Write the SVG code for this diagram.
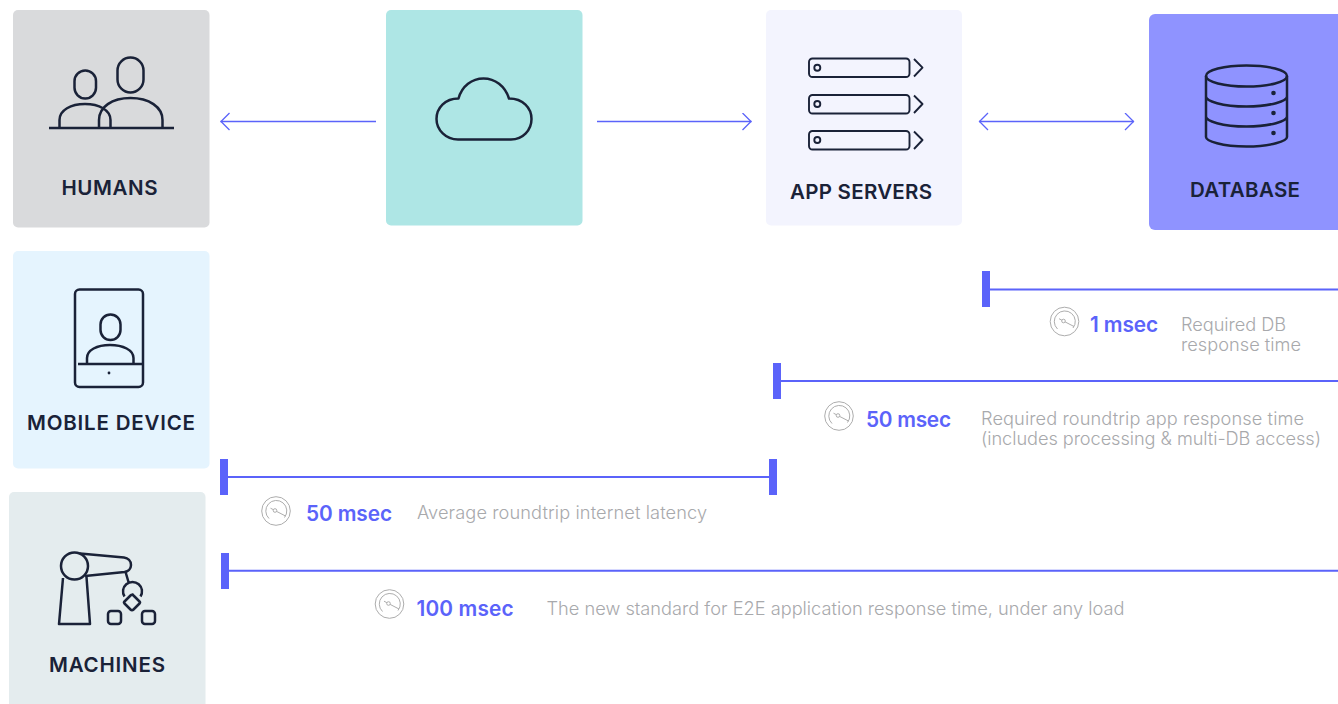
<svg xmlns="http://www.w3.org/2000/svg" xmlns:xlink="http://www.w3.org/1999/xlink" width="1338" height="704" viewBox="0 0 1338 704">
<style>
text{font-family:Inter,"Noto Sans",sans-serif}
.lbl{font-size:20.500px;font-weight:600;fill:#1a2238;text-anchor:middle}
.ic{fill:none;stroke:#1a2238;stroke-width:2.500;stroke-linejoin:round}
.ics{fill:none;stroke:#1a2238;stroke-width:1.900;stroke-linejoin:round}
.dot{fill:#1a2238}
.conn{fill:none;stroke:#5b63fa;stroke-width:1.300}
.span{fill:none;stroke:#5b63fa;stroke-width:2}
.bar{fill:#5b63fa}
.val{font-size:20.800px;font-weight:600;fill:#5b63fa}
.desc{font-size:18.200px;font-weight:300;fill:#a8a9ac}
.g{fill:none;stroke:#adadad;stroke-width:1}
</style>
<defs>
<marker id="ah" viewBox="0 0 12 20" refX="11" refY="9" markerWidth="12" markerHeight="20" markerUnits="userSpaceOnUse" orient="auto-start-reverse"><path d="M2 0.500L10.500 9L2 17.500" fill="none" stroke="#5b63fa" stroke-width="1.300"/></marker>
<g id="gauge">
<circle class="g" r="14.300"/>
<path class="g" d="M-7 7.500A10.500 10.500 0 1 1 8.500 6.500"/>
<circle class="g" cx="-1" cy="-0.500" r="1.800"/>
<path class="g" d="M-5.500-2.800L-2.600-1.300M0.600 0.400L9.500 5"/>
</g>
</defs>
<g id="humans">
<rect x="13" y="10" width="196.500" height="217.500" rx="5" fill="#d9dadc"/>
<rect class="ic" x="74.500" y="70.500" width="21.500" height="28" rx="10.700"/>
<rect class="ic" x="117.500" y="57.500" width="26" height="35" rx="13"/>
<path class="ic" d="M49 128H174M59.500 128V120C59.500 110 71 104 85 104S110.500 110 110.500 120V128M99 128V120C99 107 112 98 130.500 98S162.500 107 162.500 120V128"/>
<text class="lbl" x="109.500" y="194.500" textLength="96">HUMANS</text>
</g>
<g id="cloud">
<rect x="386" y="10" width="196.500" height="215.500" rx="5" fill="#aee6e5"/>
<path class="ic" d="M458 139.500H511C523 139.500 531.500 130 531.500 119S523 98.500 509 98.500C505 86 495 78.500 483.500 78.500S462 86 458.500 98.500C445 98.500 436.500 108 436.500 119S446 139.500 458 139.500Z"/>
</g>
<g id="app-servers">
<rect x="766" y="10" width="196" height="215.500" rx="5" fill="#f3f4fe"/>
<rect class="ics" x="809" y="58.500" width="100.500" height="18.500" rx="3.500"/><circle class="ics" cx="817.300" cy="67.700" r="3"/><path class="ics" d="M914 59L922.500 67.700L914 76.500"/>
<rect class="ics" x="809" y="95" width="100.500" height="18.500" rx="3.500"/><circle class="ics" cx="817.300" cy="104" r="3"/><path class="ics" d="M914 95.500L922.500 104L914 113"/>
<rect class="ics" x="809" y="131" width="100.500" height="18.500" rx="3.500"/><circle class="ics" cx="817.300" cy="140" r="3"/><path class="ics" d="M914 131.500L922.500 140L914 149"/>
<text class="lbl" x="861" y="199" textLength="142">APP SERVERS</text>
</g>
<g id="database">
<rect x="1149" y="14" width="195" height="216" rx="6" fill="#8f93ff"/>
<ellipse class="ic" cx="1246.500" cy="76" rx="40.500" ry="10.500"/>
<path class="ic" d="M1206 76V137C1206 141 1222 146.500 1246.500 146.500S1287 141 1287 137V76M1206 96.500C1206 101 1222 106.500 1246.500 106.500S1287 101 1287 96.500M1206 116.500C1206 121 1222 126.500 1246.500 126.500S1287 121 1287 116.500"/>
<circle class="dot" cx="1273.500" cy="93" r="2.300"/><circle class="dot" cx="1273.500" cy="113" r="2.300"/><circle class="dot" cx="1273.500" cy="133" r="2.300"/>
<text class="lbl" x="1245" y="196.500" textLength="110">DATABASE</text>
</g>
<g id="mobile-device">
<rect x="13" y="251" width="196.500" height="217.500" rx="5" fill="#e5f4fe"/>
<rect class="ic" x="75" y="289.500" width="68" height="97.500" rx="4.500"/>
<rect class="ic" x="100.500" y="314.500" width="20" height="25.500" rx="10"/>
<path class="ic" d="M78 364H143M87 364V358C87 350 97 345 110 345S133.500 350 133.500 358V364"/>
<circle class="dot" cx="109" cy="373" r="1.400"/>
<text class="lbl" x="111" y="429.500" textLength="168">MOBILE DEVICE</text>
</g>
<g id="machines">
<rect x="9" y="492" width="196.500" height="222" rx="5" fill="#e4ecee"/>
<circle class="ic" cx="74.500" cy="566" r="13.500"/>
<path class="ic" d="M80 553.500L124 557.500C128 558 131 561 131 565S128 571.500 124.500 572L85 576M63 578L59 624H90L86.500 577M125.700 572.500L128.500 582M124.500 596.500A9.500 9.500 0 1 1 140.500 596.500M132 594L139.500 601.500Q140.500 602.500 139.500 603.500L133.500 609.500Q132 611 130.500 609.500L124.500 603.500Q123.500 602.500 124.500 601.500L130.500 595.500Q132 594 133.500 595.500"/>
<rect class="ic" x="108" y="611" width="13" height="13" rx="3"/>
<rect class="ic" x="142" y="611" width="13" height="13" rx="3"/>
<text class="lbl" x="107" y="671.500" textLength="116">MACHINES</text>
</g>
<g id="connectors">
<path class="conn" d="M376 121.500H220.500" marker-end="url(#ah)"/>
<path class="conn" d="M597 121.500H751.500" marker-end="url(#ah)"/>
<path class="conn" d="M979 121.500H1134" marker-start="url(#ah)" marker-end="url(#ah)"/>
<path class="span" d="M988 289.500H1338M779 381H1338M226 477H771M227 570.700H1338"/>
<rect class="bar" x="982" y="271" width="8" height="36"/>
<rect class="bar" x="773" y="363" width="8" height="36"/>
<rect class="bar" x="220" y="459" width="8" height="36"/>
<rect class="bar" x="769" y="459" width="8" height="36"/>
<rect class="bar" x="221" y="553" width="8" height="36"/>
</g>
<g id="metric-1"><use xlink:href="#gauge" href="#gauge" x="1064.500" y="321.500"/>
<text class="val" x="1090" y="331.500" textLength="68">1 msec</text>
<text class="desc" x="1181" y="331" textLength="105">Required DB</text><text class="desc" x="1181" y="351" textLength="120">response time</text></g>
<g id="metric-2"><use xlink:href="#gauge" href="#gauge" x="839" y="416"/>
<text class="val" x="866" y="427" textLength="85">50 msec</text>
<text class="desc" x="981" y="425" textLength="323">Required roundtrip app response time</text><text class="desc" x="981" y="445" textLength="340">(includes processing &amp; multi-DB access)</text></g>
<g id="metric-3"><use xlink:href="#gauge" href="#gauge" x="276" y="511"/>
<text class="val" x="306" y="520.500" textLength="86">50 msec</text>
<text class="desc" x="417" y="519" textLength="290">Average roundtrip internet latency</text></g>
<g id="metric-4"><use xlink:href="#gauge" href="#gauge" x="389.500" y="604"/>
<text class="val" x="416.500" y="616" textLength="97">100 msec</text>
<text class="desc" x="546.500" y="615" textLength="578">The new standard for E2E application response time, under any load</text></g>
</svg>
